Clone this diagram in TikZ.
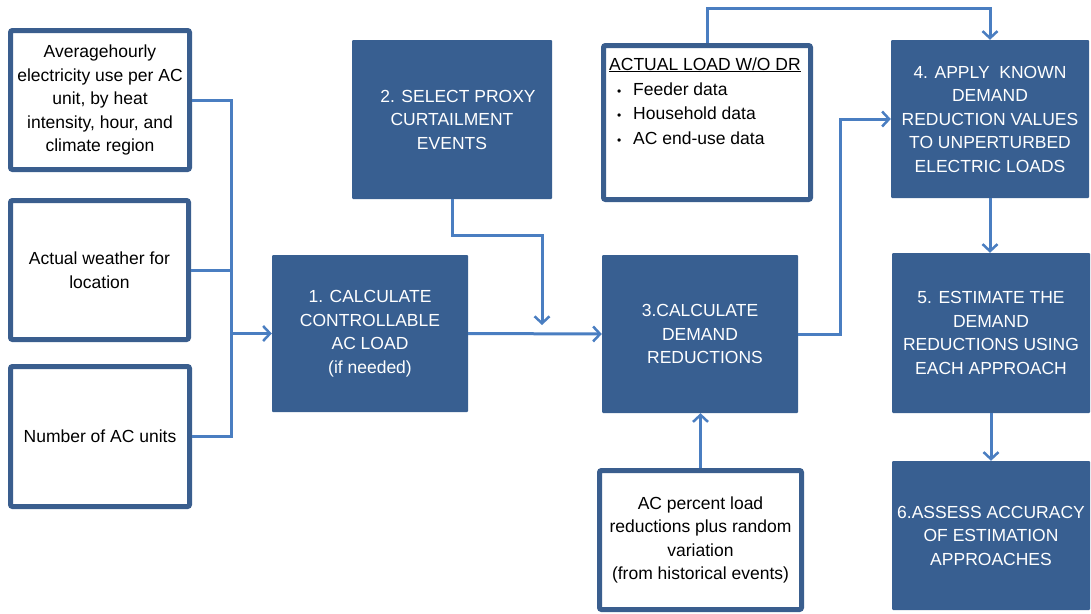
\documentclass[tikz,border=0pt]{standalone}
\usepackage{fontspec}
\setmainfont{Liberation Sans}
\usetikzlibrary{arrows.meta}
\definecolor{boxblue}{HTML}{385F91}
\definecolor{edgeblue}{HTML}{3A5E8E}
\definecolor{linkblue}{HTML}{4A7EC1}
\begin{document}
\begin{tikzpicture}[x=1pt,y=-1pt,
  txt/.style={font=\fontsize{17.5}{23.5}\selectfont, align=center, inner sep=0pt},
  dbox/.style={txt, fill=boxblue, text=white, draw=none, rounded corners=1pt},
  wbox/.style={txt, fill=white, draw=edgeblue, line width=5pt, rounded corners=2pt, text=black},
  conn/.style={draw=linkblue, line width=3pt},
  arr/.style={conn, -{Straight Barb[length=7pt,width=15pt,line width=2.5pt]}}
]
\useasboundingbox (0,0) rectangle (1091,613);

% left input boxes
\node[wbox, minimum width=179pt, minimum height=139pt] (A) at (100,100)
  {Averagehourly\\electricity use per AC\\unit, by heat\\intensity, hour, and\\climate region};
\node[wbox, minimum width=178pt, minimum height=139pt] (B) at (99.5,270)
  {Actual weather for\\location};
\node[wbox, minimum width=179pt, minimum height=140pt] (C) at (100,436.5)
  {Number of AC units};

% process boxes
\node[dbox, minimum width=196pt, minimum height=157pt] (b1) at (370,333.5)
  {1. CALCULATE\\CONTROLLABLE\\AC LOAD\\(if needed)};
\node[dbox, minimum width=200pt, minimum height=159pt] (b2) at (452,119.5)
  {\hspace*{12pt}2. SELECT PROXY\\CURTAILMENT\\EVENTS};
\node[dbox, minimum width=196pt, minimum height=158pt] (b3) at (700,334)
  {3.CALCULATE\\DEMAND\\\hspace*{10pt}REDUCTIONS};
\node[dbox, minimum width=198pt, minimum height=158pt] (b4) at (990,119)
  {4. APPLY\ \ KNOWN\\DEMAND\\REDUCTION VALUES\\TO UNPERTURBED\\ELECTRIC LOADS};
\node[dbox, minimum width=198pt, minimum height=160pt] (b5) at (991,333)
  {5. ESTIMATE THE\\DEMAND\\REDUCTIONS USING\\EACH APPROACH};
\node[dbox, minimum width=198pt, minimum height=149pt] (b6) at (991,535.5)
  {6.ASSESS ACCURACY\\OF ESTIMATION\\APPROACHES};

% actual load box
\node[wbox, minimum width=207pt, minimum height=154pt] (al) at (707,122.5) {};
\node[txt, anchor=base west] (altitle) at (609,70) {\underline{ACTUAL LOAD W/O DR}};
\node[txt, anchor=base west] (alb1) at (617,95) {\fontsize{12}{12}\selectfont\textbullet};
\node[txt, anchor=base west] (alt1) at (633,95) {Feeder\ data};
\node[txt, anchor=base west] (alb2) at (617,119.5) {\fontsize{12}{12}\selectfont\textbullet};
\node[txt, anchor=base west] (alt2) at (633,119.5) {Household data};
\node[txt, anchor=base west] (alb3) at (617,144) {\fontsize{12}{12}\selectfont\textbullet};
\node[txt, anchor=base west] (alt3) at (633,144) {AC end-use data};

% AC percent box
\node[wbox, minimum width=202pt, minimum height=139pt] (pct) at (700.5,540)
  {AC percent load\\reductions plus random\\variation\\(from historical events)};

% connectors
\coordinate (j) at (231,333.5);
\draw[conn] (A.east) -| (j) |- (C.east);
\draw[conn] (B.east) -- (B.east -| j);
\draw[arr] (j) -- (b1.west);

\coordinate (k) at (542,235);
\coordinate (kend) at (542,325);
\draw[arr] (b2.south) |- (k) -- (kend);

\draw[arr] (b1.east) -- (b3.west);

\coordinate (m) at (840,200);
\draw[arr] (b3.east) -| (m) |- (b4.west);

\coordinate (t) at (850,8);
\draw[arr] (al.north) |- (t) -| (b4.north);

\draw[arr] (b4.south) -- (b4.south |- b5.north);
\draw[arr] (b5.south) -- (b5.south |- b6.north);
\draw[arr] (pct.north) -- (pct.north |- b3.south);
\end{tikzpicture}
\end{document}
